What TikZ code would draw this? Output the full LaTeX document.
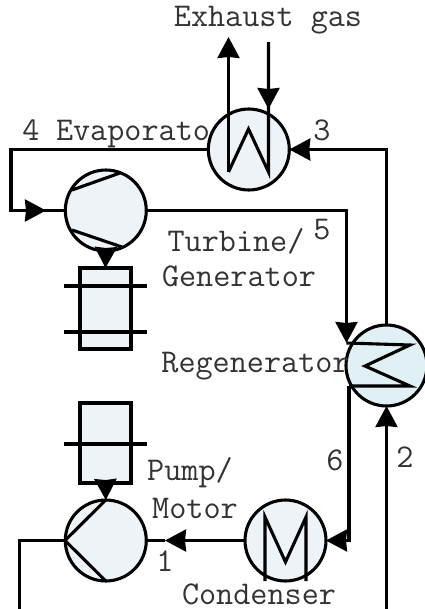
\documentclass[tikz,border=0pt]{standalone}
\usetikzlibrary{arrows.meta}
\definecolor{unitfill}{HTML}{EEF3F7}
\definecolor{regenfill}{HTML}{E0F0F5}
\begin{document}
\begin{tikzpicture}[x=0.02cm,y=-0.02cm, line join=miter, font=\ttfamily\fontsize{18.9}{20}\selectfont, line width=0.062cm, >={Stealth[length=0.42cm,width=0.44cm,inset=0.02cm]},
	unit/.style={circle,draw,fill=unitfill,minimum size=1.62cm,inner sep=0pt,outer sep=0pt},
	shaft/.style={rectangle,draw,fill=unitfill,minimum width=1.02cm,inner sep=0pt,outer sep=0pt},
	lbl/.style={inner sep=0pt,text=black!80}]
	\useasboundingbox (0,0) rectangle (425,609);
	\node[lbl] (exhaustlbl) at (268,20) {Exhaust gas};
	\node[lbl] (evaplbl) at (133,134) {Evaporato};
	\node[lbl] (no4) at (31,130) {4};
	\node[lbl] (no3) at (322,130) {3};
	\node[lbl] (no5) at (322,230) {5};
	\node[lbl] (turblbl) at (236,241) {Turbine/};
	\node[lbl] (genlbl) at (239,276) {Generator};
	\node[lbl] (no6) at (335,460) {6};
	\node[lbl] (no2) at (405,457) {2};
	\node[lbl] (pumplbl) at (190,473) {Pump/};
	\node[lbl] (motorlbl) at (195,508) {Motor};
	\node[lbl] (no1) at (165,561) {1};
	\node[lbl] (condlbl) at (259,594) {Condenser};
	% units
	\node[unit] (evap) at (248.8,149.5) {};
	\node[unit] (turb) at (105.8,210.5) {};
	\node[unit,fill=regenfill] (regen) at (386.5,365.5) {};
	\node[unit] (pump) at (105.8,540.5) {};
	\node[unit] (cond) at (285.5,540.5) {};
	\node[shaft,minimum height=1.62cm] (gen) at (105.5,308.5) {};
	\node[shaft,minimum height=1.6cm] (motor) at (105.5,443) {};
	% free ends and corners
	\coordinate (gasout) at (228.5,172);
	\coordinate (gastop) at (228.5,37);
	\coordinate (gasin) at (268.5,42);
	\coordinate (gastip) at (268.5,109);
	\coordinate (turbtip) at (46,210.5);
	\coordinate (condtip) at (165,540.5);
	\coordinate (regenin) at (346.5,343);
	\coordinate (regenout) at (349,386);
	\coordinate (pumpend) at (19.5,609);
	\coordinate (regenend) at (386.5,609);
	% loop
	\draw (evap.west)--(11,149.5)--(11,210.5)--(turbtip);
	\draw[->] (11,210.5)--(turbtip);
	\draw (turbtip)--(turb.west);
	\draw[->] (regen.north)--(386.5,149.5)--(evap.east);
	\draw[->] (turb.east)--(346.5,210.5)--(regenin);
	\draw[->] (regenout)--(349,540.5)--(cond.east);
	\draw[->] (regenend)--(regen.south);
	\draw[->] (cond.west)--(condtip);
	\draw (condtip)--(pump.east);
	\draw (pump.west)--(19.5,540.5)--(pumpend);
	\draw[->] (turb.south)--(gen.north);
	\draw[->] (motor.south)--(pump.north);
	% exhaust side
	\draw[->] (gasout)--(gastop);
	\draw (gasout)--(248.5,129)--(268.5,172)--(gasin);
	\draw[->] (gasin)--(gastip);
	% inner lines of the units
	\draw (72,190)--(120,173) (72,230)--(122,247);
	\draw (105.8,500)--(65,540.5)--(105.8,581);
	\draw (265,581)--(265,517)--(285.5,562)--(306,517)--(306,581);
	\draw (regenin)--(410,345)--(365,366)--(410,386)--(regenout);
	\draw (64,286)--(147,286) (64,332)--(147,332) (64,444)--(147,444);
	\node[lbl] (regenlbl) at (255.5,366) {Regenerator};
\end{tikzpicture}
\end{document}
